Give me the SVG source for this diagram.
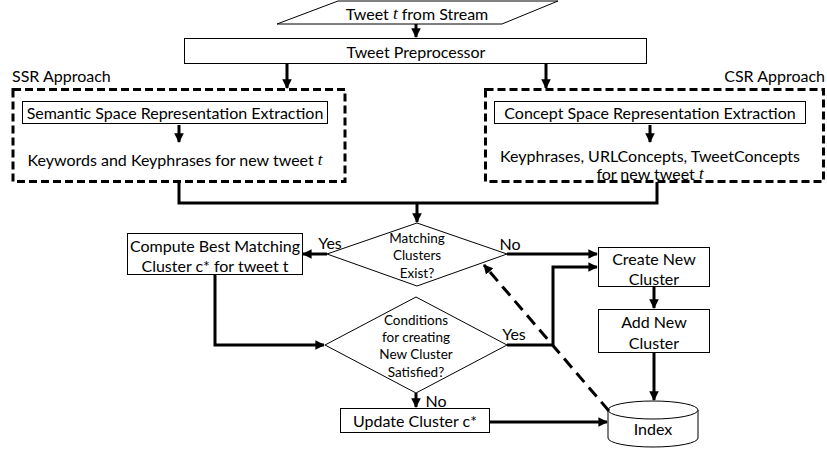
<svg xmlns="http://www.w3.org/2000/svg" width="827" height="451" viewBox="0 0 827 451">
  <style>
    text { font-family: Lato, "Open Sans", sans-serif; font-size: 16px; fill: #000; text-anchor: middle; dominant-baseline: central; }
    .sm { font-size: 13.5px; }
    .it { font-family: "Liberation Serif", serif; font-style: italic; font-size: 17px; }
    .box { fill: #fff; stroke: #000; stroke-width: 1; }
    .grp { fill: none; stroke: #000; stroke-width: 3; stroke-dasharray: 8 4; }
    .line { fill: none; stroke: #000; stroke-width: 3; }
    .dash { fill: none; stroke: #000; stroke-width: 3; stroke-dasharray: 12 7; }
  </style>
  <defs>
    <marker id="ah" viewBox="0 0 10 10" refX="9" refY="5" markerWidth="3.2" markerHeight="3.2" orient="auto" markerUnits="strokeWidth">
      <path d="M0,0 L10,5 L0,10 z" fill="#000"/>
    </marker>
  </defs>

  <g id="source">
    <polygon class="box" points="338,1 558,1 502,24 277,24"/>
    <text x="417" y="13">Tweet <tspan class="it">t</tspan> from Stream</text>
  </g>

  <g id="preprocessor">
    <rect class="box" x="184.5" y="38.5" width="462" height="25"/>
    <text x="416" y="51">Tweet Preprocessor</text>
  </g>

  <g id="ssr">
    <text x="12" y="75" style="text-anchor:start">SSR Approach</text>
    <rect class="grp" x="13" y="89.5" width="332" height="92"/>
    <rect class="box" x="22.5" y="101.5" width="305" height="22"/>
    <text x="175" y="112">Semantic Space Representation Extraction</text>
    <text x="175" y="159">Keywords and Keyphrases for new tweet <tspan class="it">t</tspan></text>
  </g>

  <g id="csr">
    <text x="825" y="75" style="text-anchor:end">CSR Approach</text>
    <rect class="grp" x="485.5" y="89.5" width="338" height="92"/>
    <rect class="box" x="494.5" y="101.5" width="311" height="22"/>
    <text x="650" y="112">Concept Space Representation Extraction</text>
    <text x="650" y="155">Keyphrases, URLConcepts, TweetConcepts</text>
    <text x="650" y="173">for new tweet <tspan class="it">t</tspan></text>
  </g>

  <g id="matching">
    <polygon class="box" points="417,223 507,254 417,286 327,254"/>
    <text class="sm" x="417" y="238">Matching</text>
    <text class="sm" x="417" y="255">Clusters</text>
    <text class="sm" x="417" y="273">Exist?</text>
  </g>

  <g id="compute">
    <rect class="box" x="127.5" y="233.5" width="175" height="41"/>
    <text x="215" y="245">Compute Best Matching</text>
    <text x="215" y="265">Cluster c* for tweet t</text>
  </g>

  <g id="create">
    <rect class="box" x="598.5" y="247.5" width="111" height="39"/>
    <text x="654" y="258">Create New</text>
    <text x="654" y="278">Cluster</text>
  </g>

  <g id="add">
    <rect class="box" x="598.5" y="309.5" width="111" height="43"/>
    <text x="654" y="321">Add New</text>
    <text x="654" y="342">Cluster</text>
  </g>

  <g id="conditions">
    <polygon class="box" points="416,297 507,345 416,393 325,345"/>
    <text class="sm" x="416" y="320">Conditions</text>
    <text class="sm" x="416" y="337">for creating</text>
    <text class="sm" x="416" y="354">New Cluster</text>
    <text class="sm" x="416" y="372">Satisfied?</text>
  </g>

  <g id="update">
    <rect class="box" x="340.5" y="408.5" width="149" height="24"/>
    <text x="415" y="420">Update Cluster c*</text>
  </g>

  <g id="index">
    <path class="box" d="M608,410 L608,438 A45,9 0 0 0 698,438 L698,410"/>
    <ellipse class="box" cx="653" cy="410" rx="45" ry="9"/>
    <text x="653" y="428">Index</text>
  </g>

  <g id="connectors">
    <path class="line" d="M416,24 V37" stroke-width="2" marker-end="url(#ah)"/>
    <path class="line" d="M287,64 V88" marker-end="url(#ah)"/>
    <path class="line" d="M546,64 V88" marker-end="url(#ah)"/>
    <path class="line" d="M179,125 V142" stroke-width="2" marker-end="url(#ah)"/>
    <path class="line" d="M650,125 V142" stroke-width="2" marker-end="url(#ah)"/>
    <path class="line" d="M179,182 V203 H657 V182"/>
    <path class="line" d="M417,203 V222" marker-end="url(#ah)"/>
    <path class="line" d="M327,254 H303" marker-end="url(#ah)"/>
    <text x="330" y="242">Yes</text>
    <path class="line" d="M507,254 H597" marker-end="url(#ah)"/>
    <text x="510" y="243">No</text>
    <path class="line" d="M215,275 V345 H324" marker-end="url(#ah)"/>
    <path class="line" d="M507,345 H553 V267 H597" marker-end="url(#ah)"/>
    <text x="514" y="333">Yes</text>
    <path class="line" d="M654,287 V308" marker-end="url(#ah)"/>
    <path class="line" d="M416,393 V407" marker-end="url(#ah)"/>
    <text x="436" y="400">No</text>
    <path class="line" d="M654,353 V400" marker-end="url(#ah)"/>
    <path class="line" d="M490,422 H607" marker-end="url(#ah)"/>
    <path class="dash" d="M609,411 L484,265" marker-end="url(#ah)"/>
  </g>
</svg>
